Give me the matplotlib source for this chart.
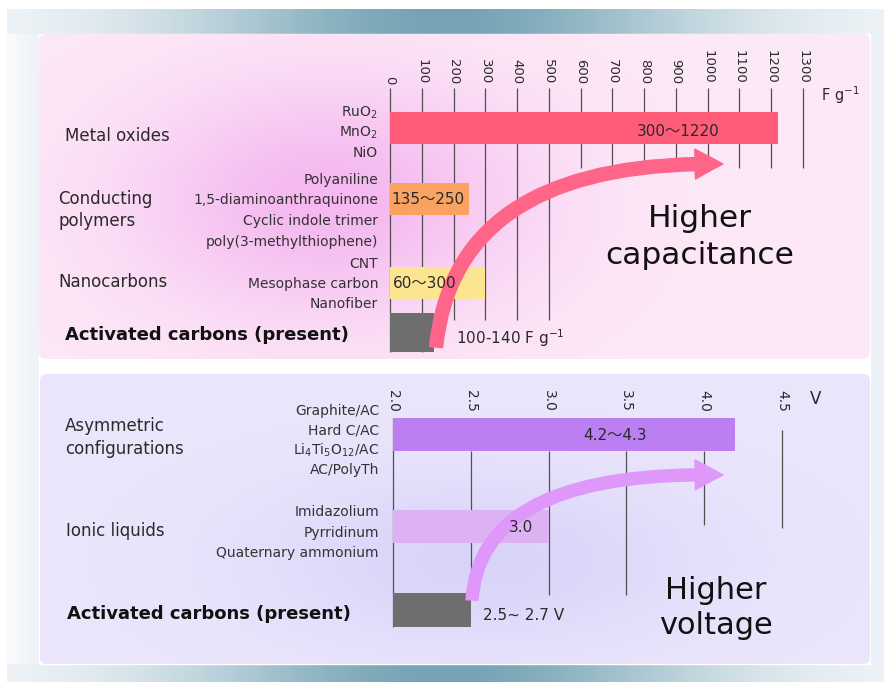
import numpy as np
import matplotlib
matplotlib.use('Agg')
import matplotlib.pyplot as plt
from matplotlib.patches import FancyArrowPatch, FancyBboxPatch
from matplotlib.path import Path

plt.rcParams['font.family'] = ['DejaVu Sans', 'Noto Sans CJK JP']

# ── Data ──────────────────────────────────────────────────────────────────────
cap_groups = ['Metal oxides', 'Conducting\npolymers', 'Nanocarbons']
cap_members = [['RuO$_2$', 'MnO$_2$', 'NiO'],
               ['Polyaniline', '1,5-diaminoanthraquinone',
                'Cyclic indole trimer', 'poly(3-methylthiophene)'],
               ['CNT', 'Mesophase carbon', 'Nanofiber']]
cap_low = [300, 135, 60]
cap_high = [1220, 250, 300]
ac_cap = [100, 140]
cap_ticks = [0, 100, 200, 300, 400, 500, 600, 700, 800, 900, 1000, 1100, 1200, 1300]

volt_groups = ['Asymmetric\nconfigurations', 'Ionic liquids']
volt_members = [['Graphite/AC', 'Hard C/AC', 'Li$_4$Ti$_5$O$_{12}$/AC', 'AC/PolyTh'],
                ['Imidazolium', 'Pyrridinum', 'Quaternary ammonium']]
volt_low = [4.2, 3.0]
volt_high = [4.3, 3.0]
ac_volt = [2.5, 2.7]
volt_ticks = [2.0, 2.5, 3.0, 3.5, 4.0, 4.5]

# ── Styling / layout (pixel rows) ─────────────────────────────────────────────
W, H = 890, 682
cap_colors = ['#ff5c7a', '#f9a262', '#fbe590']
volt_colors = ['#bb7ff2', '#dcb2f2']
gray = '#6e6e6e'
line_c = '#505050'
txt_c = '#2a2a2a'

cap_rows = [127.5, 199, 283]
cap_member_rows = [[113, 133, 153], [180, 200, 221, 242], [264, 284, 304]]
cap_group_pos = [(65, 136), (58, 210), (58, 282)]
volt_rows = [434.5, 526]
volt_member_rows = [[411, 430, 450, 470], [512, 533, 553]]
volt_group_pos = [(65, 437.5), (66, 531)]

fig = plt.figure(figsize=(W / 100, H / 100), dpi=100)
bg = fig.add_axes([0, 0, 1, 1])
bg.set_xlim(0, W)
bg.set_ylim(H, 0)
bg.axis('off')


def hgrad(x0, x1, center, sigma, light, dark):
    x = np.arange(x0, x1)
    w = np.exp(-((x - center) / sigma) ** 2)
    light, dark = np.array(light) / 255, np.array(dark) / 255
    return (light + (dark - light) * w[:, None])[None, :, :]


# outer frame
xs = np.arange(7, 884)
fade = np.clip(1 - (xs - 7) / 40, 0, 1)
base = np.array([234, 240, 245]) / 255
white = np.array([250, 251, 253]) / 255
frame = (base + (white - base) * fade[:, None])[None, :, :]
bg.imshow(frame, extent=(7, 884, 682, 9), aspect='auto', zorder=0)
# top / bottom bands
band = hgrad(7, 884, 445, 260, (244, 247, 250), (118, 164, 181))
bg.imshow(band, extent=(7, 884, 34, 9), aspect='auto', zorder=1)
bg.imshow(band, extent=(7, 884, 682, 664), aspect='auto', zorder=1)
bg.fill_between([39, 870], 34, 664, color='white', zorder=1)


def panel(x0, x1, y0, y1, edge, center, cx, cy, sx, sy, strength):
    X, Y = np.meshgrid(np.arange(x0, x1), np.arange(y0, y1))
    w = strength * np.exp(-(((X - cx) / sx) ** 2 + ((Y - cy) / sy) ** 2))
    edge, center = np.array(edge) / 255, np.array(center) / 255
    img = edge + (center - edge) * w[..., None]
    box = FancyBboxPatch((x0, y0), x1 - x0, y1 - y0,
                         boxstyle='round,pad=0,rounding_size=7',
                         facecolor='none', edgecolor='none', zorder=2)
    bg.add_patch(box)
    im = bg.imshow(img, extent=(x0, x1, y1, y0), aspect='auto', zorder=2)
    im.set_clip_path(box)


panel(39, 870, 34, 359, (253, 233, 247), (245, 184, 240), 330, 200, 200, 120, 1.0)
panel(40, 870, 374, 664, (236, 230, 252), (212, 208, 248), 480, 560, 230, 90, 0.8)


def curved_arrow(ax, p0, p1, p2, color, tail, head_w, head_l):
    path = Path([p0, p1, p2], [Path.MOVETO, Path.CURVE3, Path.CURVE3])
    arr = FancyArrowPatch(path=path, color=color, mutation_scale=1, zorder=5,
                          arrowstyle=f'simple,head_length={head_l},head_width={head_w},tail_width={tail}',
                          transform=ax.transData)
    ax.add_patch(arr)


# ── Top panel: capacitance ────────────────────────────────────────────────────
k1 = (803 - 390) / 1300
ax1 = fig.add_axes([39 / W, 1 - 359 / H, (870 - 39) / W, (359 - 34) / H])
ax1.set_xlim((39 - 390) / k1, (870 - 390) / k1)
ax1.set_ylim(359, 34)
ax1.axis('off')
ax1.patch.set_alpha(0)

line_end = [352, 352, 320, 320, 320, 320, 168, 168, 168, 168, 168, 168, 168, 168]
ax1.vlines(cap_ticks, 88, line_end, color=line_c, lw=0.9, zorder=2)
for t in cap_ticks:
    ax1.text(t, 84, str(t), rotation=270, ha='center', va='bottom',
             fontsize=9.5, color=txt_c)

ax1.barh(cap_rows, cap_high, height=32, left=0, color=cap_colors, zorder=3)
ax1.barh(332.5, ac_cap[1], height=39, left=0, color=gray, zorder=3)

ax1.text(906, 131, f'{cap_low[0]}〜{cap_high[0]}', ha='center', va='center',
         fontsize=11, color=txt_c, zorder=6)
ax1.text(3, 199, f'{cap_low[1]}〜{cap_high[1]}', ha='left', va='center',
         fontsize=11, color=txt_c, zorder=6)
ax1.text(9, 284, f'{cap_low[2]}〜{cap_high[2]}', ha='left', va='center',
         fontsize=11, color=txt_c, zorder=6)

curved_arrow(ax1, (145, 347), (205, 160), (1048, 164), '#ff6589', 9.4, 21.5, 20)

for name, (gx, gy) in zip(cap_groups, cap_group_pos):
    bg.text(gx, gy, name, ha='left', va='center', fontsize=12, color=txt_c,
            linespacing=1.35, zorder=6)
for members, rows in zip(cap_members, cap_member_rows):
    for m, r in zip(members, rows):
        bg.text(378, r, m, ha='right', va='center', fontsize=10, color='#333333', zorder=6)
bg.text(65, 335, 'Activated carbons (present)', ha='left', va='center',
        fontsize=13, fontweight='bold', color='#111111', zorder=6)
bg.text(456, 338, f'{ac_cap[0]}-{ac_cap[1]} F g$^{{-1}}$', ha='left', va='center',
        fontsize=11, color=txt_c, zorder=6)
bg.text(821, 95, 'F g$^{-1}$', ha='left', va='center', fontsize=10.5, color=txt_c, zorder=6)
bg.text(700, 237, 'Higher\ncapacitance', ha='center', va='center', fontsize=22.5,
        color='#111111', linespacing=1.35, zorder=6)

# ── Bottom panel: voltage ─────────────────────────────────────────────────────
k2 = (782 - 393) / 2.5
v0 = volt_ticks[0]
ax2 = fig.add_axes([40 / W, 1 - 664 / H, (870 - 40) / W, (664 - 374) / H])
ax2.set_xlim(v0 + (40 - 393) / k2, v0 + (870 - 393) / k2)
ax2.set_ylim(664, 374)
ax2.axis('off')
ax2.patch.set_alpha(0)

line_top = [418, 451, 451, 451, 451, 430]
line_bot = [627, 593, 595, 595, 525, 528]
ax2.vlines(volt_ticks, line_top, line_bot, color=line_c, lw=0.9, zorder=2)
for t in volt_ticks:
    ax2.text(t, 390, f'{t:.1f}', rotation=270, ha='center', va='top',
             fontsize=10, color=txt_c)

ax2.barh(volt_rows, np.array(volt_low) - v0, height=33, left=v0, color=volt_colors, zorder=3)
ax2.barh(610, ac_volt[0] - v0, height=34, left=v0, color=gray, zorder=3)

ax2.text(3.43, 436, f'{volt_low[0]}〜{volt_high[0]}', ha='center', va='center',
         fontsize=11, color=txt_c, zorder=6)
ax2.text(2.82, 527, f'{volt_low[1]:.1f}', ha='center', va='center',
         fontsize=11, color=txt_c, zorder=6)

curved_arrow(ax2, (2.508, 600), (2.559, 470), (4.121, 475), '#df97f9', 8.6, 21.5, 20)

for name, (gx, gy) in zip(volt_groups, volt_group_pos):
    bg.text(gx, gy, name, ha='left', va='center', fontsize=12, color=txt_c,
            linespacing=1.35, zorder=6)
for members, rows in zip(volt_members, volt_member_rows):
    for m, r in zip(members, rows):
        bg.text(379, r, m, ha='right', va='center', fontsize=10, color='#333333', zorder=6)
bg.text(67, 614, 'Activated carbons (present)', ha='left', va='center',
        fontsize=13, fontweight='bold', color='#111111', zorder=6)
bg.text(483, 615, f'{ac_volt[0]}~ {ac_volt[1]} V', ha='left', va='center',
        fontsize=11, color=txt_c, zorder=6)
bg.text(810, 399, 'V', ha='left', va='center', fontsize=12, color=txt_c, zorder=6)
bg.text(716, 608, 'Higher\nvoltage', ha='center', va='center', fontsize=22,
        color='#111111', linespacing=1.3, zorder=6)

fig.savefig('out.png', dpi=100)
